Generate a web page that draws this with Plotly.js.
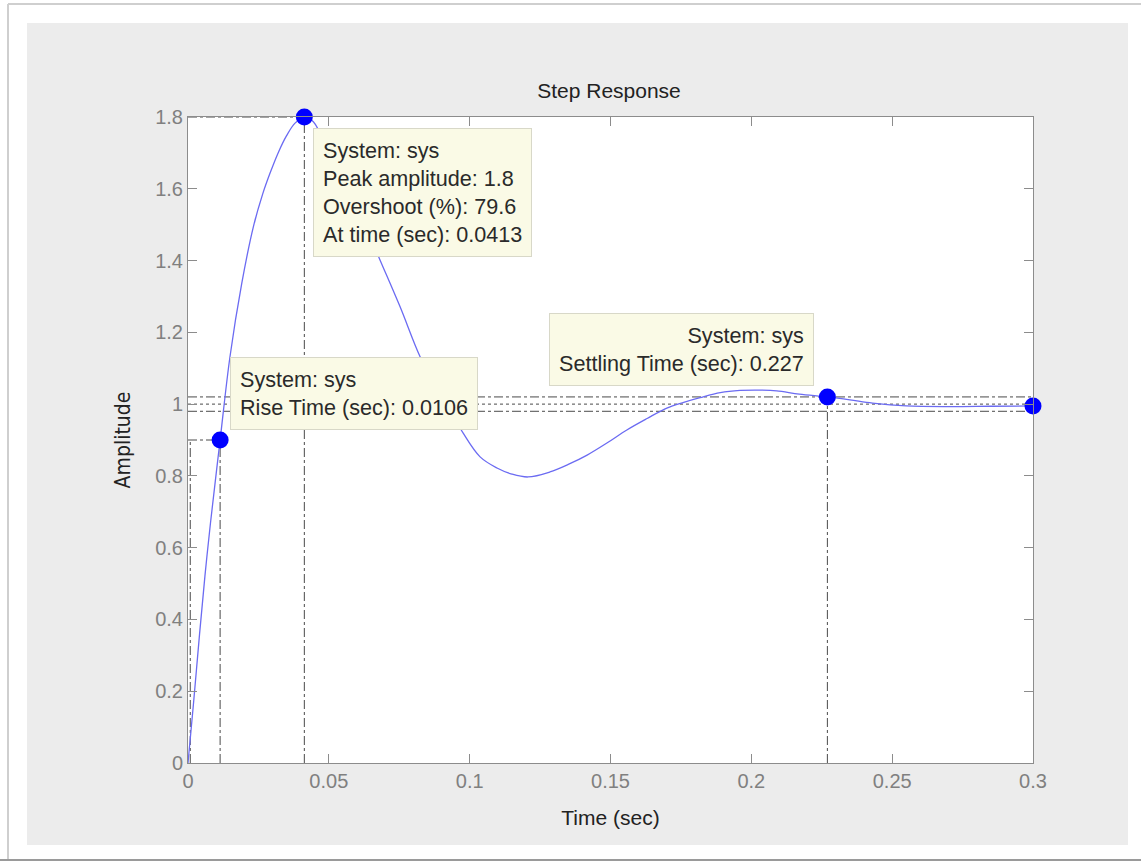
<!DOCTYPE html>
<html>
<head>
<meta charset="utf-8">
<script src="https://cdn.plot.ly/plotly-3.0.1.min.js"></script>
<style>
  html, body { margin: 0; padding: 0; background: #ffffff; }
  #chart { width: 1141px; height: 863px; }
</style>
</head>
<body>
<div id="chart"></div>
<script>
// ---- data ----
const timeSec = [0, 0.002, 0.004, 0.006, 0.008, 0.0114, 0.0149, 0.0191, 0.0232, 0.0265,
  0.0291, 0.032, 0.035, 0.038, 0.0413, 0.0445, 0.05, 0.055, 0.06, 0.065,
  0.0682, 0.0753, 0.0824, 0.088, 0.093, 0.0977, 0.1037, 0.1097, 0.115, 0.1207,
  0.1285, 0.135, 0.1417, 0.149, 0.1558, 0.163, 0.17, 0.176, 0.1818, 0.189,
  0.196, 0.203, 0.209, 0.217, 0.227, 0.235, 0.243, 0.255, 0.27, 0.285, 0.3];
const amplitude = [0, 0.17, 0.35, 0.52, 0.67, 0.90, 1.132, 1.337, 1.494, 1.585,
  1.643, 1.70, 1.748, 1.783, 1.80, 1.787, 1.70, 1.625, 1.545, 1.46,
  1.401, 1.271, 1.132, 1.05, 0.985, 0.919, 0.853, 0.822, 0.805, 0.797,
  0.811, 0.832, 0.858, 0.893, 0.928, 0.960, 0.989, 1.005, 1.018, 1.032,
  1.038, 1.039, 1.037, 1.028, 1.02, 1.012, 1.003, 0.995, 0.993, 0.994, 0.995];

// characteristic points
const riseStartTime = 0.0008;
const riseTime = 0.0114, riseLevel = 0.9;
const peakTime = 0.0413, peakAmp = 1.8;
const settleTime = 0.227, settleAmp = 1.02;
const finalTime = 0.3, finalAmp = 0.995;
const steadyState = 1.0;
const settleBand = [0.98, 1.02];

const xTickVals = [0, 0.05, 0.1, 0.15, 0.2, 0.25, 0.3];
const xTickText = ['0', '0.05', '0.1', '0.15', '0.2', '0.25', '0.3'];
const yTickVals = [0, 0.2, 0.4, 0.6, 0.8, 1, 1.2, 1.4, 1.6, 1.8];
const yTickText = ['0', '0.2', '0.4', '0.6', '0.8', '1', '1.2', '1.4', '1.6', '1.8'];

const peakText = ['System: sys', 'Peak amplitude: 1.8', 'Overshoot (%): 79.6', 'At time (sec): 0.0413'];
const riseText = ['System: sys', 'Rise Time (sec): 0.0106'];
const settleText = ['System: sys', 'Settling Time (sec): 0.227'];

// ---- styling ----
const FONT = 'Liberation Sans, Arial, Helvetica, sans-serif';
const refLine = {color: '#4a4a4a', width: 1, dash: 'dashdot'};
const xMin = xTickVals[0], xMax = xTickVals[xTickVals.length - 1];

function seg(x, y, line) {
  return {x: x, y: y, type: 'scatter', mode: 'lines', line: line, hoverinfo: 'skip', showlegend: false};
}

const traces = [
  seg([xMin, xMax], [settleBand[1], settleBand[1]], refLine),
  seg([xMin, xMax], [settleBand[0], settleBand[0]], refLine),
  seg([xMin, xMax], [steadyState, steadyState], {color: '#4a4a4a', width: 1, dash: 'dot'}),
  seg([xMin, riseTime], [riseLevel, riseLevel], refLine),
  seg([riseTime, riseTime], [0, riseLevel], refLine),
  seg([riseStartTime, riseStartTime], [0, riseLevel], refLine),
  seg([xMin, peakTime], [peakAmp, peakAmp], refLine),
  seg([peakTime, peakTime], [0, peakAmp], refLine),
  seg([settleTime, settleTime], [0, settleAmp], refLine),
  {x: timeSec, y: amplitude, type: 'scatter', mode: 'lines',
   line: {color: '#6b6bf2', width: 1.3, shape: 'spline', smoothing: 1}, showlegend: false},
  {x: [riseTime, peakTime, settleTime, finalTime], y: [riseLevel, peakAmp, settleAmp, finalAmp],
   type: 'scatter', mode: 'markers', marker: {color: '#0000ff', size: 17}, cliponaxis: false, showlegend: false}
];

const px = x => (x - 188) / 845;
const py = y => (763 - y) / 646;

const boxStyle = {
  xref: 'x', yref: 'y', yanchor: 'top', showarrow: false,
  bgcolor: '#fafae6', bordercolor: '#d8d8c8', borderwidth: 1, borderpad: 9,
  font: {family: FONT, size: 21.6, color: '#2a2a2a'}
};

const layout = {
  width: 1141, height: 863,
  margin: {l: 188, r: 108, t: 117, b: 100},
  paper_bgcolor: '#ffffff',
  plot_bgcolor: '#ffffff',
  showlegend: false,
  font: {family: FONT, color: '#333333'},
  title: {text: 'Step Response', font: {family: FONT, size: 21, color: '#222222'},
          x: px(609), xref: 'paper', xanchor: 'center', y: 1 - 91 / 863, yref: 'container', yanchor: 'middle'},
  xaxis: {
    range: [xMin, xMax], tickvals: xTickVals, ticktext: xTickText,
    showgrid: false, zeroline: false, showline: true, linecolor: '#8c8c8c', linewidth: 1,
    mirror: 'ticks', ticks: 'inside', ticklen: 9, tickcolor: '#8c8c8c',
    tickfont: {family: FONT, size: 20, color: '#808080'},
    title: {text: 'Time (sec)', font: {family: FONT, size: 21, color: '#222222'}, standoff: 19},
    fixedrange: true
  },
  yaxis: {
    range: [0, 1.8], tickvals: yTickVals, ticktext: yTickText,
    showgrid: false, zeroline: false, showline: true, linecolor: '#8c8c8c', linewidth: 1,
    mirror: 'ticks', ticks: 'inside', ticklen: 9, tickcolor: '#8c8c8c',
    tickfont: {family: FONT, size: 20, color: '#808080'},
    title: {text: 'Amplitude', font: {family: 'Liberation Sans Narrow, DejaVu Sans Condensed, ' + FONT, size: 21, color: '#222222'}, standoff: 18},
    fixedrange: true
  },
  shapes: [
    {type: 'rect', xref: 'paper', yref: 'paper', x0: px(27), x1: px(1128), y0: py(845), y1: py(23),
     fillcolor: '#ececec', line: {width: 0}, layer: 'below'},
    {type: 'rect', xref: 'paper', yref: 'paper', x0: 0, x1: 1, y0: 0, y1: 1,
     fillcolor: '#ffffff', line: {width: 0}, layer: 'below'},
    {type: 'line', xref: 'paper', yref: 'paper', x0: px(8), x1: px(1141), y0: py(4), y1: py(4), line: {color: '#cfcfcf', width: 2}},
    {type: 'line', xref: 'paper', yref: 'paper', x0: px(8), x1: px(8), y0: py(4), y1: py(860), line: {color: '#cfcfcf', width: 2}},
    {type: 'line', xref: 'paper', yref: 'paper', x0: px(0), x1: px(1141), y0: py(860), y1: py(860), line: {color: '#9a9a9a', width: 2}}
  ],
  annotations: [
    Object.assign({text: peakText.join('<br>'), x: 0.0444, y: 1.769, xanchor: 'left', align: 'left'}, boxStyle),
    Object.assign({text: riseText.join('<br>'), x: 0.0149, y: 1.131, xanchor: 'left', align: 'left'}, boxStyle),
    Object.assign({text: settleText.join('<br>'), x: 0.2222, y: 1.2538, xanchor: 'right', align: 'right'}, boxStyle)
  ]
};

Plotly.newPlot('chart', traces, layout, {displayModeBar: false, staticPlot: true});
</script>
</body>
</html>
